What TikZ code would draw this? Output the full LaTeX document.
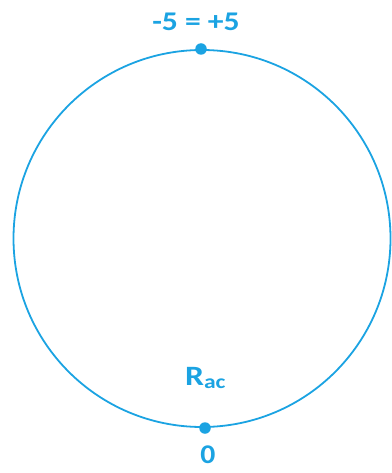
\documentclass[tikz,border=0pt]{standalone}
\usepackage{fontspec}
\usepackage{graphicx}
\setmainfont{Carlito}
\definecolor{cblue}{RGB}{27,163,226}
\newcommand{\wide}[2][1.2]{\scalebox{#1}[1]{#2}}
\begin{document}
\begin{tikzpicture}[x=1pt,y=-1pt,
  lbl/.style={text=cblue,font=\bfseries\fontsize{27}{29}\selectfont,inner sep=0pt},
  dotstyle/.style={circle,fill=cblue,inner sep=0pt,minimum size=11.5pt}]
\useasboundingbox (0,0) rectangle (391,473);
\node[draw=cblue,line width=1.8pt,circle,minimum size=377pt,inner sep=0pt] (c) at (202,238.5) {};
\node[dotstyle] (top) at (201,49) {};
\node[dotstyle] (bot) at (205,428) {};
\node[lbl,anchor=base] (tl) at (196,31) {\wide[1.17]{-5 = +5}};
\node[lbl,anchor=base,font=\bfseries\fontsize{27}{29}\selectfont] (zero) at (208,463) {\wide[1.1]{0}};
\node[lbl,anchor=base west,font=\bfseries\fontsize{28}{30}\selectfont] (r) at (185,385) {\wide[1.2]{R\textsubscript{ac}}};
\end{tikzpicture}
\end{document}
